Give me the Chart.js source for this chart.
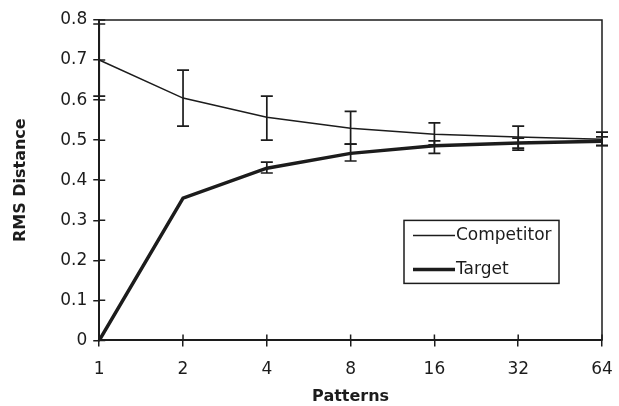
<!DOCTYPE html>
<html lang="en">
<head>
<meta charset="utf-8">
<title>RMS Distance vs Patterns</title>
<script src="https://cdn.jsdelivr.net/npm/chart.js@4.4.1/dist/chart.umd.min.js"></script>
<style>
  html, body { margin: 0; padding: 0; background: #fff; }
  #wrap { width: 619px; height: 406px; }
</style>
</head>
<body>
<div id="wrap"><canvas id="rmsChart" width="619" height="406"></canvas></div>
<script>
/* ─────────────────── datos ──────────────── */
const patterns    = ["1", "2", "4", "8", "16", "32", "64"];
const yTickLabels = ["0", "0.1", "0.2", "0.3", "0.4", "0.5", "0.6", "0.7", "0.8"];

const competitor     = [0.70, 0.605, 0.557, 0.530, 0.515, 0.508, 0.502];
const competitorLow  = [0.61, 0.535, 0.500, 0.490, 0.488, 0.480, 0.487];
const competitorHigh = [0.79, 0.675, 0.610, 0.572, 0.543, 0.535, 0.520];

const target     = [0, 0.355, 0.430, 0.467, 0.486, 0.493, 0.497];
const targetLow  = [null, null, 0.418, 0.448, 0.467, 0.475, 0.486];
const targetHigh = [null, null, 0.445, 0.490, 0.498, 0.505, 0.508];

const INK  = "#1c1c1c";
const FONT = "'DejaVu Sans', Arial, sans-serif";

/* ─────────────────── plugins ──────────────── */
// barras de error con remate horizontal
const errorBars = {
  id: "errorBars",
  afterDatasetsDraw(chart) {
    const { ctx, scales: { x, y } } = chart;
    chart.data.datasets.forEach(ds => {
      if (!ds.errLow) return;
      ctx.save();
      ctx.strokeStyle = INK;
      ctx.lineWidth = 1.7;
      ds.errLow.forEach((lo, i) => {
        const hi = ds.errHigh[i];
        if (lo == null || hi == null) return;
        const px = x.getPixelForValue(i);
        const y1 = y.getPixelForValue(lo);
        const y2 = y.getPixelForValue(hi);
        ctx.beginPath();
        ctx.moveTo(px, y1);     ctx.lineTo(px, y2);
        ctx.moveTo(px - 6, y1); ctx.lineTo(px + 6, y1);
        ctx.moveTo(px - 6, y2); ctx.lineTo(px + 6, y2);
        ctx.stroke();
      });
      ctx.restore();
    });
  }
};

// marco superior/derecho y la parte interior de las marcas
const frame = {
  id: "frame",
  afterDraw(chart) {
    const { ctx, chartArea: a, scales: { x, y } } = chart;
    ctx.save();
    ctx.strokeStyle = INK;
    ctx.lineWidth = 1.5;
    ctx.beginPath();
    ctx.moveTo(a.left, a.top);
    ctx.lineTo(a.right, a.top);
    ctx.lineTo(a.right, a.bottom);
    ctx.stroke();

    ctx.beginPath();
    y.ticks.forEach((t, i) => {
      const py = y.getPixelForTick(i);
      ctx.moveTo(a.left, py); ctx.lineTo(a.left + 6, py);
    });
    x.ticks.forEach((t, i) => {
      const px = x.getPixelForTick(i);
      ctx.moveTo(px, a.bottom); ctx.lineTo(px, a.bottom - 6);
    });
    ctx.stroke();
    ctx.restore();
  }
};

// leyenda con recuadro dentro del área
const boxLegend = {
  id: "boxLegend",
  afterDraw(chart) {
    const { ctx, chartArea: a } = chart;
    const w = 155, h = 63;
    const left = a.right - 43 - w;
    const top  = a.bottom - 57 - h;
    ctx.save();
    ctx.strokeStyle = INK;
    ctx.lineWidth = 1.5;
    ctx.strokeRect(left, top, w, h);
    ctx.font = "17px " + FONT;
    ctx.fillStyle = INK;
    ctx.textBaseline = "middle";
    chart.data.datasets.forEach((ds, i) => {
      const cy = top + 15 + i * 34;
      ctx.lineWidth = ds.borderWidth;
      ctx.beginPath();
      ctx.moveTo(left + 9, cy);
      ctx.lineTo(left + 51, cy);
      ctx.stroke();
      ctx.fillText(ds.label, left + 52, cy);
    });
    ctx.restore();
  }
};

/* ─────────────────── gráfico ──────────────── */
const ctx = document.getElementById("rmsChart").getContext("2d");
new Chart(ctx, {
  type: "line",
  data: {
    labels: patterns,
    datasets: [
      {
        label: "Competitor",
        data: competitor,
        errLow: competitorLow,
        errHigh: competitorHigh,
        borderColor: INK,
        borderWidth: 1.5,
        pointRadius: 0,
        tension: 0
      },
      {
        label: "Target",
        data: target,
        errLow: targetLow,
        errHigh: targetHigh,
        borderColor: INK,
        borderWidth: 3.5,
        pointRadius: 0,
        tension: 0
      }
    ]
  },
  options: {
    responsive: false,
    animation: false,
    layout: { padding: { left: 11, right: 5, top: 20, bottom: 0 } },
    plugins: { legend: { display: false }, tooltip: { enabled: false } },
    scales: {
      x: {
        offset: false,
        afterFit: s => { s.paddingRight = 17; },
        grid: { drawOnChartArea: false, drawTicks: true, tickLength: 6, color: INK, lineWidth: 1.5 },
        border: { color: INK, width: 2 },
        ticks: { color: INK, padding: 13, font: { family: FONT, size: 17 }, maxRotation: 0 },
        title: { display: true, text: "Patterns", color: INK,
                 font: { family: FONT, size: 16, weight: "bold" }, padding: { top: -6, bottom: 0 } }
      },
      y: {
        min: 0,
        max: 0.8,
        grid: { drawOnChartArea: false, drawTicks: true, tickLength: 6, color: INK, lineWidth: 1.5 },
        border: { color: INK, width: 2 },
        ticks: { stepSize: 0.1, color: INK, padding: 6, font: { family: FONT, size: 17 },
                 callback: (v, i) => yTickLabels[i] },
        title: { display: true, text: "RMS Distance", color: INK,
                 font: { family: FONT, size: 16, weight: "bold" }, padding: { top: 0, bottom: 24 } }
      }
    }
  },
  plugins: [errorBars, frame, boxLegend]
});
</script>
</body>
</html>
